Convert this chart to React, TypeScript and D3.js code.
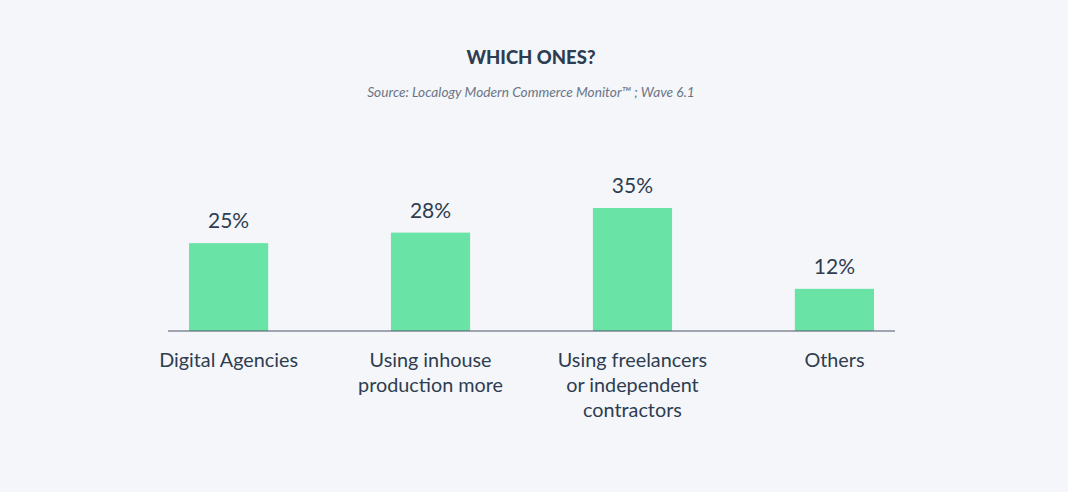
import React from 'react'
import * as d3 from 'd3'

const categories = [
  ['Digital Agencies'],
  ['Using inhouse', 'production more'],
  ['Using freelancers', 'or independent', 'contractors'],
  ['Others'],
]
const values = [25, 28, 35, 12]
const title = 'WHICH ONES?'
const subtitle = 'Source: Localogy Modern Commerce Monitor™ ; Wave 6.1'

const W = 1068
const H = 492
const FONT = 'Lato, "Noto Sans", sans-serif'
const TEXT = '#2e3d50'

export default function App() {
  const keys = categories.map((c) => c.join(' '))
  const x = d3.scaleBand<string>()
    .domain(keys)
    .range([168, 895])
    .paddingInner(0.608)
    .paddingOuter(0.104)
  const y = d3.scaleLinear().domain([0, 35]).range([331, 208])

  return (
    <svg width={W} height={H} style={{ position: 'absolute', left: 0, top: 0 }} fontFamily={FONT}>
      <rect width={W} height={H} fill="#f4f6fa" />
      <text x={531} y={64} textAnchor="middle" fontSize={18.5} fontWeight={900} fill={TEXT}>
        {title}
      </text>
      <text x={531} y={97} textAnchor="middle" fontSize={13.7} fontStyle="italic" fill="#6b7585">
        {subtitle}
      </text>

      {values.map((v, i) => {
        const k = keys[i]
        const bx = x(k) ?? 0
        return (
          <g key={k}>
            <rect x={bx} y={y(v)} width={x.bandwidth()} height={y(0) - y(v)} fill="#6ae3a7" />
            <text x={bx + x.bandwidth() / 2} y={y(v) - 15} textAnchor="middle" fontSize={21} fill={TEXT}>
              {v}%
            </text>
          </g>
        )
      })}

      <line x1={168} x2={895} y1={y(0)} y2={y(0)} stroke="#4a5566" strokeWidth={1.2} />

      {categories.map((lines, i) => {
        const cx = (x(keys[i]) ?? 0) + x.bandwidth() / 2
        return (
          <text key={keys[i]} x={cx} textAnchor="middle" fontSize={19.8} fill={TEXT}>
            {lines.map((l, j) => (
              <tspan key={j} x={cx} y={366.7 + j * 25}>{l}</tspan>
            ))}
          </text>
        )
      })}
    </svg>
  )
}
